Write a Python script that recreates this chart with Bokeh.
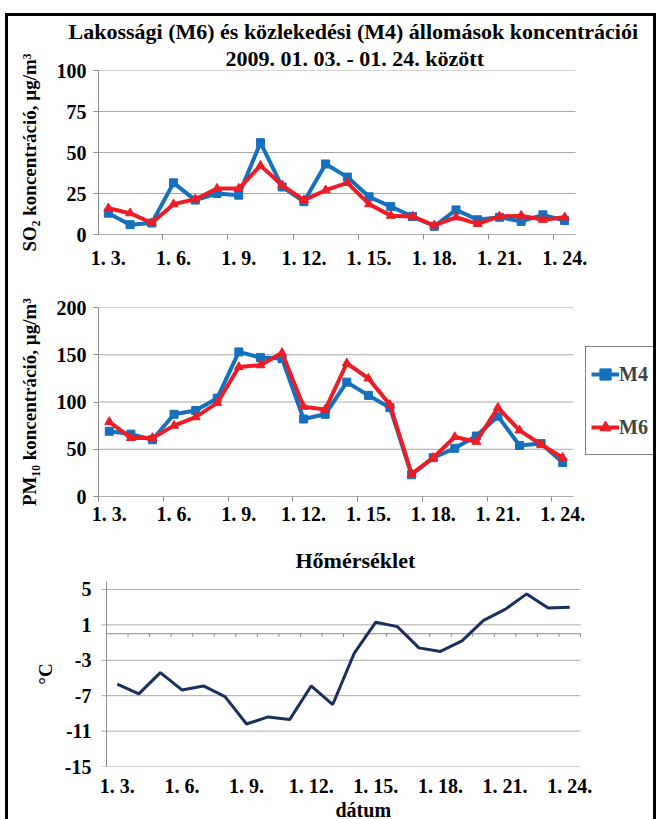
from bokeh.plotting import figure
from bokeh.layouts import column
from bokeh.models import FixedTicker, Title, Legend, LegendItem, Range1d
from bokeh.embed import file_html
from bokeh.resources import INLINE

# ---------------- data ----------------
days = ["1. 3.", "1. 4.", "1. 5.", "1. 6.", "1. 7.", "1. 8.", "1. 9.", "1. 10.",
        "1. 11.", "1. 12.", "1. 13.", "1. 14.", "1. 15.", "1. 16.", "1. 17.",
        "1. 18.", "1. 19.", "1. 20.", "1. 21.", "1. 22.", "1. 23.", "1. 24."]
so2_m4 = [13, 6, 7, 31.5, 21, 25, 24, 56, 29, 20, 43, 35, 23, 17, 11, 5, 15, 9, 10.5, 8, 12, 8.5]
so2_m6 = [16, 13, 7, 18.5, 21.5, 28, 28, 42, 30, 21, 27, 31.5, 18.5, 11.5, 11, 5.5, 10.5, 6.5, 11, 11.5, 9, 10.5]
pm10_m4 = [69, 66, 60, 87, 91, 104, 153, 147, 146, 82, 87, 121, 107, 94, 23, 41, 51, 64, 85, 54, 56, 36]
pm10_m6 = [79, 62, 62, 75, 84, 99, 137, 139, 152, 95, 92, 141, 125, 97, 24, 41, 63, 58, 94, 70, 55, 41]
temp = [-5.7, -6.8, -4.4, -6.35, -5.9, -7.1, -10.2, -9.4, -9.7, -5.9, -8.0, -2.2,
        1.3, 0.8, -1.6, -2.0, -0.8, 1.5, 2.75, 4.5, 2.9, 3.0]
so2_ticks = [0, 25, 50, 75, 100]
pm10_ticks = [0, 50, 100, 150, 200]
temp_ticks = [-15, -11, -7, -3, 1, 5]
series_names = ["M4", "M6"]

title1 = "Lakossági (M6) és közlekedési (M4) állomások koncentrációi"
title2 = "2009. 01. 03. - 01. 24. között"
title3 = "Hőmérséklet"
so2_label = "SO\u2082 koncentráció, µg/m\u00b3"
pm10_label = "PM\u2081\u2080 koncentráció, µg/m\u00b3"
temp_label = "°C"
x_label = "dátum"

# ---------------- helpers ----------------
n = len(days)
xs = list(range(1, n + 1))
label_pos = xs[::3]
overrides = {i: days[i - 1] for i in label_pos}
bounds3 = [i - 0.5 for i in label_pos]
bounds_all = [i - 0.5 for i in range(1, n + 2)]
X0, X1 = 0.5, n + 0.5

FONT = "Times"
BLUE = "#1570be"
RED = "#ee1c25"
NAVY = "#1b2f5e"
GRID = "#a8a8a8"
AXIS = "#8c8c8c"
FS = "20px"
CSS = ["text { font-family: 'Liberation Serif', 'Times New Roman', serif; }"]

# all frames are aligned by the column: common frame 555 px wide;
# each panel's x range is set so its categories land where the reference has them
FRAME_W = 555.0


def xrange_for(px_first_edge_offset, px_width):
    scale = px_width / n
    start = X0 - px_first_edge_offset / scale
    return start, start + FRAME_W / scale


T_TOP = 5.9


def base_fig(h, xr, yr, yticks, top, bottom):
    p = figure(width=645, height=h, x_range=Range1d(*xr), y_range=Range1d(*yr),
               output_backend="svg", toolbar_location=None,
               min_border_left=90, min_border_right=0,
               min_border_top=top, min_border_bottom=bottom, stylesheets=CSS)
    p.outline_line_color = None
    p.background_fill_color = "white"
    p.border_fill_color = "white"
    p.xgrid.grid_line_color = None
    p.ygrid.grid_line_color = None
    p.yaxis.ticker = FixedTicker(ticks=yticks)
    p.yaxis.major_label_overrides = {t: str(t) for t in yticks}
    for ax in (p.xaxis[0], p.yaxis[0]):
        ax.major_label_text_font = FONT
        ax.major_label_text_font_style = "bold"
        ax.major_label_text_font_size = FS
        ax.major_label_text_color = "black"
        ax.axis_line_color = AXIS
        ax.axis_label_text_font = FONT
        ax.axis_label_text_font_style = "bold"
        ax.axis_label_text_font_size = "19px"
        ax.axis_label_text_color = "black"
    p.yaxis.major_tick_out = 5
    p.yaxis.major_tick_in = 0
    p.yaxis.major_tick_line_color = AXIS
    p.yaxis.minor_tick_line_color = None
    p.yaxis.major_label_standoff = 7
    p.xaxis.axis_line_color = None
    p.xaxis.major_tick_line_color = None
    p.xaxis.major_tick_out = 0
    p.xaxis.major_tick_in = 0
    p.xaxis.major_label_overrides = overrides
    return p


def grid(p, ticks, x_from):
    p.segment(x0=[x_from] * len(ticks), y0=ticks, x1=[X1] * len(ticks), y1=ticks,
              line_color=GRID, line_width=1)


def style_title(t, size="22px"):
    t.text_font = FONT
    t.text_font_style = "bold"
    t.text_font_size = size
    t.text_color = "black"
    t.align = "left"


# ---------------- panel 1: SO2 ----------------
p1 = base_fig(255, xrange_for(-1, 478), (0, 100), so2_ticks, 54, 37)
p1.xaxis.ticker = FixedTicker(ticks=label_pos, minor_ticks=bounds3)
p1.xaxis.minor_tick_line_color = AXIS
p1.xaxis.minor_tick_out = 5
p1.xaxis.minor_tick_in = 0
p1.xaxis.major_label_standoff = 7
p1.yaxis.axis_label = so2_label
p1.yaxis.axis_label_standoff = 14
p1.title.text = title1
style_title(p1.title)
p1.title.offset = -30
p1.title.standoff = 0
t2 = Title(text=title2, offset=127, standoff=0)
style_title(t2)
p1.add_layout(t2, "above")

grid(p1, so2_ticks, X0)
p1.segment(x0=[X0], y0=[so2_ticks[0]], x1=[X1], y1=[so2_ticks[0]], line_color=AXIS, line_width=1)
p1.line(xs, so2_m4, line_color=BLUE, line_width=4)
p1.scatter(xs, so2_m4, marker="square", size=8, color=BLUE)
p1.line(xs, so2_m6, line_color=RED, line_width=4)
p1.scatter(xs, so2_m6, marker="triangle", size=9, color=RED)

# ---------------- panel 2: PM10 ----------------
p2 = base_fig(266, xrange_for(0, 475), (0, 200), pm10_ticks, 36, 41)
p2.xaxis.ticker = FixedTicker(ticks=label_pos, minor_ticks=bounds3)
p2.xaxis.minor_tick_line_color = AXIS
p2.xaxis.minor_tick_out = 5
p2.xaxis.minor_tick_in = 0
p2.xaxis.major_label_standoff = 1
p2.yaxis.axis_label = pm10_label
p2.yaxis.axis_label_standoff = 14

grid(p2, pm10_ticks, X0)
p2.segment(x0=[X0], y0=[pm10_ticks[0]], x1=[X1], y1=[pm10_ticks[0]], line_color=AXIS, line_width=1)
l4 = p2.line(xs, pm10_m4, line_color=BLUE, line_width=4)
s4 = p2.scatter(xs, pm10_m4, marker="square", size=8, color=BLUE)
l6 = p2.line(xs, pm10_m6, line_color=RED, line_width=4)
s6 = p2.scatter(xs, pm10_m6, marker="triangle", size=9, color=RED)

legend = Legend(items=[LegendItem(label=series_names[0], renderers=[l4, s4]),
                       LegendItem(label=series_names[1], renderers=[l6, s6])],
                location=(487, 41), orientation="vertical",
                border_line_color="black", border_line_width=1.5,
                background_fill_color="white", background_fill_alpha=1,
                padding=5, spacing=9, glyph_width=28, glyph_height=44,
                label_height=44, label_standoff=0, margin=0,
                label_text_font=FONT, label_text_font_style="bold",
                label_text_font_size=FS)
p2.add_layout(legend)

# ---------------- panel 3: temperature ----------------
xr3 = xrange_for(8, 474)
p3 = base_fig(282, xr3, (-15, T_TOP), temp_ticks, 43, 53)
p3.xaxis.ticker = FixedTicker(ticks=label_pos)
p3.xaxis.minor_tick_line_color = None
p3.xaxis.major_label_standoff = 8
p3.yaxis.axis_line_color = None
p3.yaxis.major_tick_line_color = None
p3.yaxis.major_tick_out = 0
p3.yaxis.major_label_standoff = 7
p3.yaxis.axis_label = temp_label
p3.yaxis.axis_label_standoff = 6
p3.title.text = title3
style_title(p3.title)
p3.title.offset = 197
p3.title.standoff = 17
tb = Title(text=x_label, offset=237, standoff=-6)
style_title(tb, "20px")
p3.add_layout(tb, "below")

grid(p3, temp_ticks, X0 - 5 * (xr3[1] - xr3[0]) / FRAME_W)
p3.segment(x0=[X0], y0=[temp_ticks[0]], x1=[X0], y1=[T_TOP], line_color=AXIS, line_width=1)
p3.segment(x0=[X0], y0=[0], x1=[X1], y1=[0], line_color=AXIS, line_width=1)
p3.segment(x0=bounds_all, y0=[0] * len(bounds_all), x1=bounds_all,
           y1=[-0.35] * len(bounds_all), line_color=AXIS, line_width=1)
p3.line(xs, temp, line_color=NAVY, line_width=3)

layout = column(p1, p2, p3,
                styles={"border-left": "3px solid black",
                        "border-top": "3px solid black",
                        "border-right": "3px solid black",
                        "margin-top": "13px", "margin-left": "5px"})

open("out.html", "w").write(file_html(layout, INLINE))
